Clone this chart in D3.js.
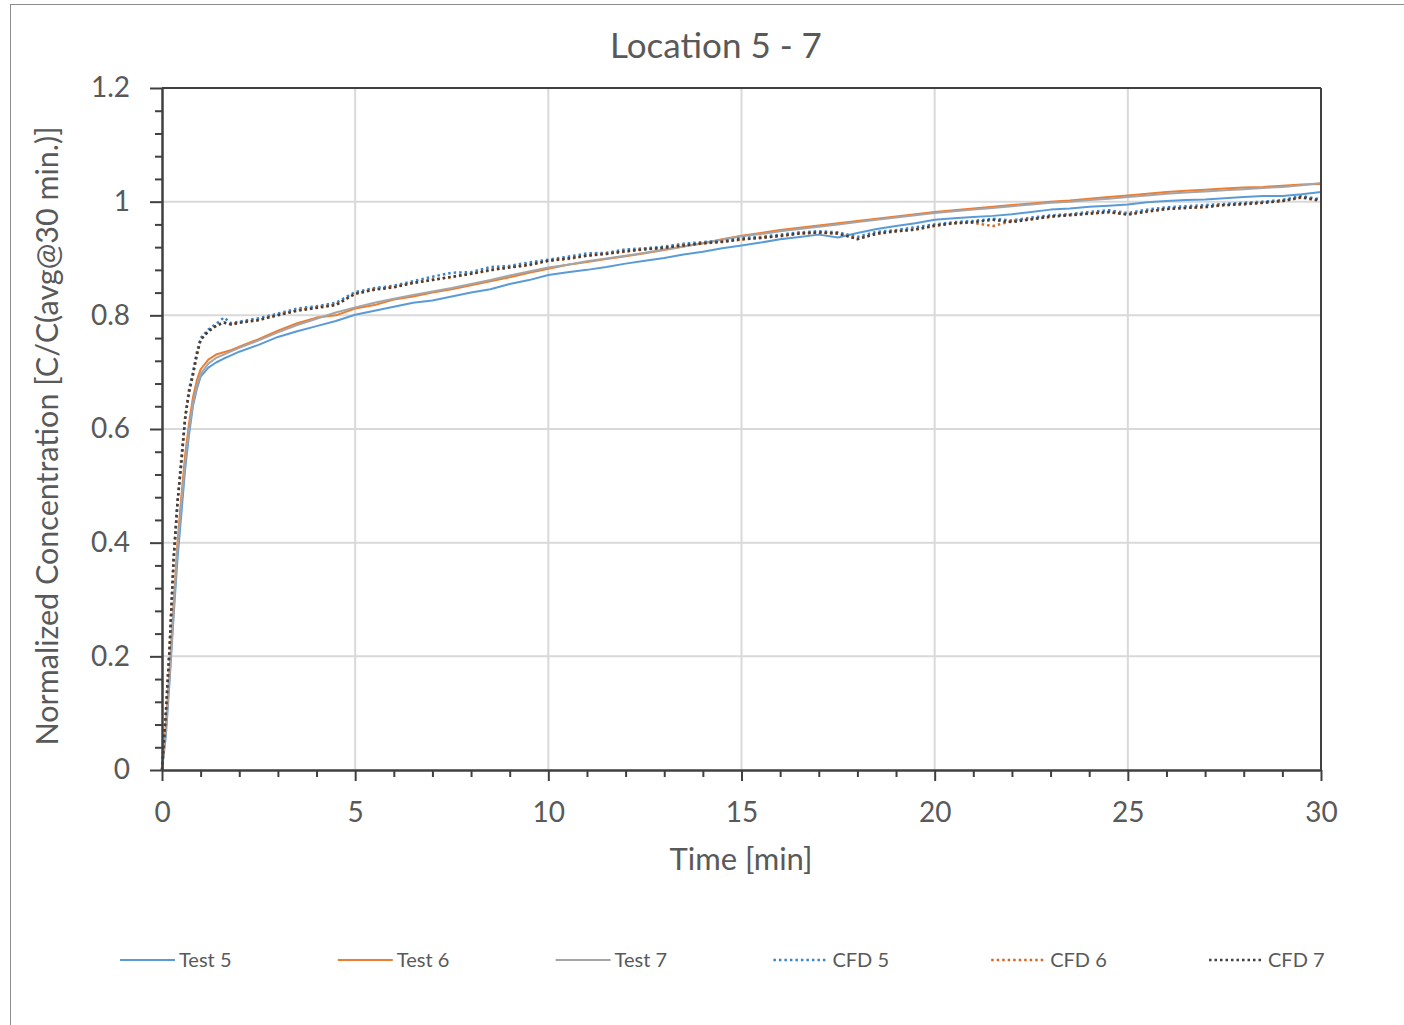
<!DOCTYPE html>
<html lang="en">
<head>
    <meta charset="UTF-8">
    <title>Location 5 - 7</title>
    <script src="https://d3js.org/d3.v7.min.js"></script>
    <style>
        body { margin: 0; background: #fff; }
        svg text { font-family: Lato, "Open Sans", sans-serif; fill: #595959; }
    </style>
</head>
<body>
    <svg width="1404" height="1025"></svg>
    <script>
        // Zeitachse [min]
        var time = [0, 0.1, 0.2, 0.3, 0.4, 0.5, 0.6, 0.7, 0.8, 0.9, 1.0, 1.2, 1.4, 1.6, 1.8, 2.0,
            2.5, 3, 3.5, 4, 4.5, 5, 5.5, 6, 6.5, 7, 7.5, 8, 8.5, 9, 9.5, 10,
            10.5, 11, 11.5, 12, 12.5, 13, 13.5, 14, 14.5, 15, 15.5, 16, 16.5, 17, 17.5, 18,
            18.5, 19, 19.5, 20, 20.5, 21, 21.5, 22, 22.5, 23, 23.5, 24, 24.5, 25,
            25.5, 26, 26.5, 27, 27.5, 28, 28.5, 29, 29.5, 30];

        var test5 = [0, 0.06, 0.16, 0.27, 0.37, 0.45, 0.53, 0.59, 0.64, 0.67, 0.692, 0.708, 0.717, 0.724, 0.730, 0.736,
            0.748, 0.762, 0.772, 0.781, 0.790, 0.801, 0.808, 0.815, 0.822, 0.826, 0.833, 0.840, 0.846, 0.855, 0.862, 0.871,
            0.876, 0.880, 0.885, 0.891, 0.896, 0.901, 0.907, 0.912, 0.918, 0.923, 0.928, 0.934, 0.938, 0.942, 0.937, 0.945,
            0.952, 0.957, 0.962, 0.968, 0.971, 0.973, 0.975, 0.978, 0.982, 0.986, 0.988, 0.991, 0.993, 0.995,
            0.999, 1.001, 1.003, 1.004, 1.006, 1.008, 1.010, 1.010, 1.013, 1.017];
        var test6 = [0, 0.08, 0.18, 0.29, 0.40, 0.48, 0.555, 0.61, 0.655, 0.685, 0.705, 0.722, 0.731, 0.735, 0.739, 0.745,
            0.758, 0.773, 0.786, 0.796, 0.800, 0.812, 0.818, 0.828, 0.833, 0.840, 0.846, 0.853, 0.860, 0.867, 0.875, 0.882,
            0.889, 0.894, 0.899, 0.904, 0.909, 0.915, 0.921, 0.927, 0.934, 0.940, 0.945, 0.950, 0.954, 0.958, 0.962, 0.966,
            0.970, 0.974, 0.978, 0.982, 0.985, 0.988, 0.991, 0.994, 0.997, 1.000, 1.002, 1.005, 1.008, 1.011,
            1.014, 1.017, 1.019, 1.021, 1.023, 1.025, 1.026, 1.028, 1.030, 1.031];
        var test7 = [0, 0.07, 0.17, 0.28, 0.39, 0.47, 0.54, 0.60, 0.645, 0.675, 0.697, 0.715, 0.725, 0.731, 0.737, 0.743,
            0.756, 0.770, 0.783, 0.794, 0.805, 0.814, 0.822, 0.829, 0.836, 0.842, 0.848, 0.855, 0.862, 0.870, 0.877, 0.884,
            0.889, 0.895, 0.900, 0.905, 0.910, 0.916, 0.921, 0.927, 0.933, 0.939, 0.943, 0.948, 0.952, 0.956, 0.960, 0.964,
            0.968, 0.972, 0.976, 0.980, 0.983, 0.986, 0.989, 0.992, 0.995, 0.998, 1.000, 1.003, 1.005, 1.008,
            1.011, 1.014, 1.016, 1.018, 1.020, 1.022, 1.024, 1.026, 1.029, 1.033];
        var cfd5 = [0, 0.10, 0.22, 0.37, 0.47, 0.55, 0.62, 0.67, 0.70, 0.735, 0.760, 0.775, 0.785, 0.796, 0.786, 0.789,
            0.795, 0.803, 0.812, 0.816, 0.822, 0.841, 0.848, 0.852, 0.860, 0.868, 0.875, 0.876, 0.885, 0.887, 0.893, 0.898,
            0.903, 0.909, 0.910, 0.916, 0.918, 0.921, 0.926, 0.929, 0.931, 0.936, 0.938, 0.942, 0.946, 0.948, 0.946, 0.938,
            0.947, 0.950, 0.955, 0.960, 0.964, 0.966, 0.970, 0.967, 0.972, 0.976, 0.978, 0.982, 0.985, 0.980,
            0.986, 0.990, 0.992, 0.994, 0.996, 0.998, 1.000, 1.003, 1.010, 1.004];
        var cfd6 = [0, 0.10, 0.22, 0.37, 0.47, 0.54, 0.62, 0.665, 0.695, 0.73, 0.757, 0.772, 0.781, 0.788, 0.784, 0.787,
            0.791, 0.801, 0.809, 0.814, 0.819, 0.838, 0.846, 0.850, 0.857, 0.863, 0.867, 0.873, 0.879, 0.885, 0.888, 0.896,
            0.899, 0.905, 0.909, 0.912, 0.917, 0.918, 0.924, 0.926, 0.930, 0.933, 0.937, 0.939, 0.944, 0.945, 0.944, 0.935,
            0.943, 0.948, 0.951, 0.957, 0.962, 0.963, 0.957, 0.966, 0.969, 0.973, 0.977, 0.979, 0.981, 0.978,
            0.982, 0.987, 0.989, 0.990, 0.994, 0.995, 0.998, 1.001, 1.007, 1.001];
        var cfd7 = [0, 0.10, 0.22, 0.37, 0.47, 0.54, 0.62, 0.665, 0.695, 0.73, 0.757, 0.772, 0.782, 0.787, 0.784, 0.787,
            0.792, 0.800, 0.808, 0.813, 0.818, 0.838, 0.845, 0.849, 0.857, 0.862, 0.868, 0.873, 0.880, 0.884, 0.889, 0.896,
            0.900, 0.905, 0.908, 0.913, 0.916, 0.919, 0.923, 0.927, 0.929, 0.934, 0.936, 0.940, 0.944, 0.946, 0.944, 0.934,
            0.944, 0.948, 0.951, 0.958, 0.962, 0.964, 0.968, 0.964, 0.969, 0.974, 0.976, 0.979, 0.982, 0.977,
            0.983, 0.987, 0.989, 0.991, 0.994, 0.996, 0.998, 1.001, 1.008, 1.002];

        var seriesNames = ["Test 5", "Test 6", "Test 7", "CFD 5", "CFD 6", "CFD 7"];
        var seriesValues = [test5, test6, test7, cfd5, cfd6, cfd7];
        var seriesColors = ["#5b9bd5", "#ed7d31", "#a5a5a5", "#3d85c6", "#d9651f", "#404040"];
        var seriesDotted = [false, false, false, true, true, true];

        var xTicks = [0, 5, 10, 15, 20, 25, 30];
        var yTicks = [0, 0.2, 0.4, 0.6, 0.8, 1, 1.2];

        var svg = d3.select('svg');
        var margin = { top: 88, left: 162, right: 1404 - 1321, bottom: 1025 - 770 };
        var width = 1321 - 162, height = 770 - 88;

        // Rahmen des Diagrammbereichs
        svg.append('rect')
            .attr('x', 10.5).attr('y', 4.5)
            .attr('width', 1500).attr('height', 1100)
            .attr('fill', 'none').attr('stroke', '#8c8c8c').attr('stroke-width', 1);

        var x = d3.scaleLinear().domain([0, 30]).range([0, width]);
        var y = d3.scaleLinear().domain([0, 1.2]).range([height, 0]);

        var g = svg.append('g')
            .attr('transform', 'translate(' + margin.left + ',' + margin.top + ')');

        // Gitterlinien
        g.append('g').selectAll('line').data(yTicks.slice(1, -1)).enter().append('line')
            .attr('x1', 0).attr('x2', width)
            .attr('y1', function(d) { return y(d); }).attr('y2', function(d) { return y(d); })
            .attr('stroke', '#d9d9d9').attr('stroke-width', 2);
        g.append('g').selectAll('line').data(xTicks.slice(1, -1)).enter().append('line')
            .attr('y1', 0).attr('y2', height)
            .attr('x1', function(d) { return x(d); }).attr('x2', function(d) { return x(d); })
            .attr('stroke', '#d9d9d9').attr('stroke-width', 2);

        // Messreihen
        var line = d3.line()
            .x(function(d) { return x(d[0]); })
            .y(function(d) { return y(d[1]); });

        seriesValues.forEach(function(vals, i) {
            var pts = time.map(function(t, k) { return [t, vals[k]]; });
            g.append('path')
                .datum(pts)
                .attr('d', line)
                .attr('fill', 'none')
                .attr('stroke', seriesColors[i])
                .attr('stroke-width', seriesDotted[i] ? 2.5 : 2)
                .attr('stroke-dasharray', seriesDotted[i] ? '2.5,3' : null)
                .attr('stroke-linejoin', 'round');
        });

        // Rahmen oben und rechts
        g.append('line').attr('x1', 0).attr('x2', width).attr('y1', 0).attr('y2', 0)
            .attr('stroke', '#404040').attr('stroke-width', 2);
        g.append('line').attr('x1', width).attr('x2', width).attr('y1', 0).attr('y2', height)
            .attr('stroke', '#404040').attr('stroke-width', 2);

        // Achsen
        function styleAxis(sel) {
            sel.select('.domain').attr('stroke', '#404040').attr('stroke-width', 2);
            sel.selectAll('.tick line').attr('stroke', '#404040').attr('stroke-width', 2);
        }

        var xMinor = [];
        for (var i = 1; i < 30; i++) if (i % 5 !== 0) xMinor.push(i);
        var yMinor = [];
        for (var j = 1; j < 30; j++) if (j % 5 !== 0) yMinor.push(j * 0.04);

        g.append('g').attr('transform', 'translate(0,' + height + ')')
            .call(d3.axisBottom(x).tickValues(xMinor).tickSize(7).tickFormat('').tickSizeOuter(0))
            .call(styleAxis);
        g.append('g').call(d3.axisLeft(y).tickValues(yMinor).tickSize(7).tickFormat('').tickSizeOuter(0))
            .call(styleAxis);

        var xAxis = g.append('g').attr('transform', 'translate(0,' + height + ')')
            .call(d3.axisBottom(x).tickValues(xTicks).tickSize(11).tickPadding(21).tickSizeOuter(0))
            .call(styleAxis);
        xAxis.selectAll('text').style('font-size', '28px').attr('fill', '#595959')
            .style('font-family', 'Lato, sans-serif');

        var yAxis = g.append('g')
            .call(d3.axisLeft(y).tickValues(yTicks).tickSize(12).tickPadding(20).tickSizeOuter(0)
                .tickFormat(function(d) { return d3.format('')(+d.toFixed(1)); }))
            .call(styleAxis);
        yAxis.selectAll('text').style('font-size', '28px').attr('fill', '#595959')
            .style('font-family', 'Lato, sans-serif');

        // Titel und Achsenbeschriftungen
        svg.append('text').attr('x', 716).attr('y', 58).attr('text-anchor', 'middle')
            .style('font-size', '35px').text('Location 5 - 7');
        svg.append('text').attr('x', 741).attr('y', 870).attr('text-anchor', 'middle')
            .style('font-size', '31px').text('Time [min]');
        svg.append('text').attr('transform', 'translate(58,436) rotate(-90)').attr('text-anchor', 'middle')
            .style('font-size', '30.5px').text('Normalized Concentration [C/C(avg@30 min.)]');

        // Legende
        var legend = svg.append('g').attr('transform', 'translate(120,960)');
        seriesNames.forEach(function(name, i) {
            var item = legend.append('g').attr('transform', 'translate(' + (i * 217.8) + ',0)');
            item.append('line').attr('x1', 0).attr('x2', 55).attr('y1', 0).attr('y2', 0)
                .attr('stroke', seriesColors[i])
                .attr('stroke-width', seriesDotted[i] ? 2.5 : 2)
                .attr('stroke-dasharray', seriesDotted[i] ? '2.5,3' : null);
            item.append('text').attr('x', 59).attr('y', 7)
                .style('font-size', '20px').text(name);
        });
    </script>
</body>
</html>
